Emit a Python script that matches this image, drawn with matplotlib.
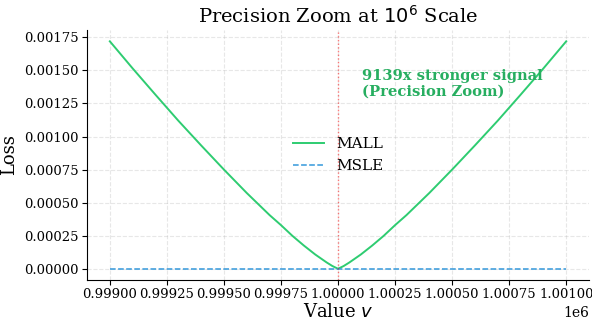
import matplotlib
matplotlib.use("Agg")
import matplotlib.pyplot as plt

plt.rcParams['font.family'] = ['DejaVu Serif']

## values
target = 1000000
v = [999000, 999100, 999200, 999300, 999400, 999500, 999600, 999700, 999750,
     999800, 999850, 999900, 999950, 999975, 1000000, 1000025, 1000050,
     1000100, 1000150, 1000200, 1000250, 1000300, 1000400, 1000500, 1000600,
     1000700, 1000800, 1000900, 1001000]
mall = [0.00172, 0.001515, 0.001316, 0.00112, 0.000933, 0.00075, 0.000573,
        0.000406, 0.00033, 0.000249, 0.000176, 0.000108, 0.000048, 0.000021,
        0.0, 0.000021, 0.000048, 0.000108, 0.000176, 0.000249, 0.00033,
        0.000406, 0.000573, 0.00075, 0.000933, 0.00112, 0.001316, 0.001515,
        0.00172]
msle = [1e-12] * len(v)
ratio = 9139

fig, ax = plt.subplots(figsize=(5.92, 3.22), dpi=100)
ax.plot(v, mall, color='#2ecc71', lw=1.4, label='MALL')
ax.plot(v, msle, color='#3498db', lw=1.1, ls='--', label='MSLE')
ax.axvline(target, color='red', ls=':', lw=1, alpha=0.5)

ax.text(0.548, 0.845, f'{ratio}x stronger signal\n(Precision Zoom)',
        transform=ax.transAxes, color='#27ae60', fontsize=10.6,
        fontweight='bold', va='top', ha='left', linespacing=1.15)

ax.set_title('Precision Zoom at $10^6$ Scale', fontsize=14, pad=5)
ax.set_xlabel('Value $v$', fontsize=13, labelpad=1)
ax.set_ylabel('Loss', fontsize=13)
ax.tick_params(labelsize=9.5, pad=2.5)
ax.grid(True, ls='--', alpha=0.3)
ax.spines['top'].set_visible(False)
ax.spines['right'].set_visible(False)
ax.legend(loc='center', frameon=False, fontsize=11)

fig.subplots_adjust(left=0.147, right=0.995, top=0.907, bottom=0.13)
fig.savefig('out.png', dpi=100)
